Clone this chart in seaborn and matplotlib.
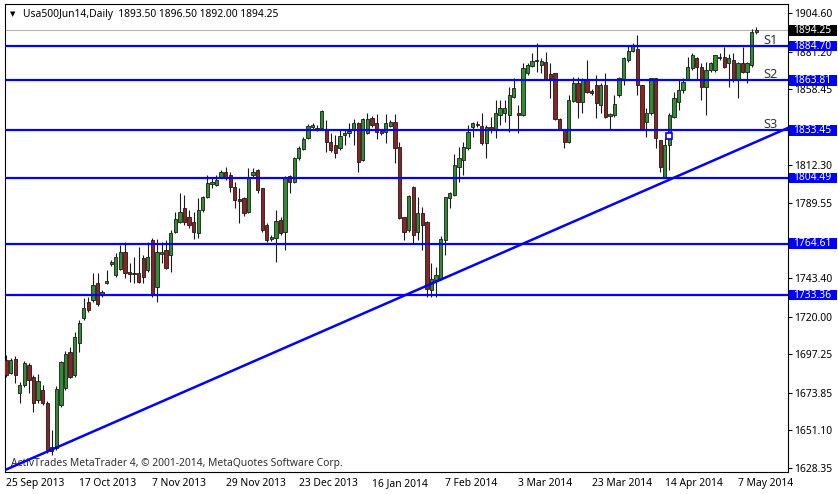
import numpy as np
import pandas as pd
import matplotlib
matplotlib.use("Agg")
import matplotlib.pyplot as plt
import seaborn as sns
from matplotlib.transforms import blended_transform_factory
from matplotlib.patches import Rectangle

# ---------------- data ----------------
opens = [1693.8, 1685.9, 1694.5, 1673.8, 1678.7, 1690.8, 1683.5, 1669.5, 1675.6, 1667.7,
         1640.9, 1640.4, 1666.5, 1676.8, 1698.7, 1684.7, 1704.2, 1719.4, 1729.1, 1730.3,
         1740.6, 1733.9, 1740.6, 1752.2, 1745.5, 1749.2, 1759.5, 1747.3, 1746.1, 1746.7,
         1755.8, 1748.6, 1766.8, 1738.2, 1758.3, 1760.7, 1757.7, 1771.6, 1777.7, 1786.2,
         1780.8, 1777.7, 1771.0, 1785.0, 1792.9, 1800.8, 1800.2, 1805.1, 1808.1, 1806.3,
         1799.0, 1791.7, 1792.3, 1783.8, 1806.3, 1809.3, 1798.4, 1775.9, 1767.4, 1768.0,
         1778.9, 1771.6, 1805.7, 1802.0, 1816.6, 1822.1, 1828.8, 1835.5, 1834.9, 1834.9,
         1834.3, 1826.3, 1824.5, 1822.7, 1830.6, 1831.8, 1833.6, 1837.9, 1815.4, 1831.8,
         1840.9, 1837.9, 1833.0, 1832.4, 1836.1, 1838.5, 1823.3, 1780.8, 1772.9, 1799.0,
         1771.6, 1783.2, 1777.7, 1736.4, 1742.5, 1743.1, 1766.8, 1792.3, 1794.1, 1811.2,
         1815.4, 1822.7, 1835.5, 1836.7, 1836.1, 1825.7, 1835.5, 1834.3, 1842.8, 1844.0,
         1842.8, 1853.7, 1844.0, 1842.8, 1868.3, 1872.5, 1875.6, 1873.2, 1875.0, 1867.6,
         1868.3, 1840.3, 1833.6, 1826.3, 1851.3, 1862.2, 1850.7, 1864.0, 1857.3, 1861.0,
         1848.8, 1861.0, 1842.2, 1842.8, 1854.9, 1864.0, 1876.2, 1881.7, 1882.9, 1861.0,
         1838.5, 1844.0, 1865.3, 1827.6, 1805.1, 1824.5, 1841.5, 1850.7, 1858.0, 1864.0,
         1871.3, 1877.4, 1871.9, 1859.8, 1870.1, 1870.1, 1877.4, 1878.0, 1874.4, 1876.2,
         1864.0, 1874.4, 1868.9, 1873.2, 1893.5]
highs = [1696.9, 1695.1, 1696.3, 1680.5, 1693.2, 1692.0, 1684.7, 1685.3, 1678.7, 1668.9,
         1651.3, 1678.0, 1693.2, 1699.3, 1701.8, 1710.9, 1718.2, 1731.5, 1732.1, 1746.7,
         1746.7, 1736.4, 1748.6, 1754.6, 1758.9, 1763.8, 1765.6, 1752.8, 1756.5, 1762.5,
         1757.7, 1765.6, 1768.0, 1767.4, 1765.6, 1766.8, 1772.9, 1783.8, 1795.4, 1794.1,
         1785.0, 1783.8, 1792.3, 1793.5, 1806.3, 1804.5, 1806.3, 1809.3, 1811.2, 1808.1,
         1802.0, 1798.4, 1792.9, 1810.5, 1810.5, 1809.9, 1798.4, 1777.1, 1769.8, 1785.0,
         1780.8, 1805.7, 1806.3, 1817.2, 1823.9, 1829.4, 1837.3, 1837.9, 1836.7, 1845.8,
         1839.7, 1831.8, 1830.6, 1833.6, 1834.3, 1837.9, 1840.3, 1838.5, 1840.9, 1844.0,
         1842.2, 1843.4, 1833.6, 1843.4, 1839.7, 1843.4, 1826.3, 1780.8, 1794.1, 1799.6,
         1792.9, 1786.9, 1778.3, 1752.8, 1750.4, 1769.2, 1792.9, 1796.0, 1819.1, 1823.3,
         1826.3, 1836.7, 1838.5, 1839.1, 1844.0, 1836.7, 1841.5, 1851.9, 1851.9, 1851.9,
         1859.8, 1865.3, 1848.8, 1874.4, 1874.4, 1880.4, 1886.5, 1877.4, 1881.0, 1874.4,
         1868.3, 1840.9, 1833.6, 1854.9, 1865.9, 1865.9, 1865.3, 1876.2, 1858.6, 1867.1,
         1862.2, 1868.3, 1844.0, 1854.9, 1865.9, 1878.0, 1885.3, 1886.5, 1891.4, 1861.0,
         1847.0, 1865.3, 1865.3, 1827.6, 1828.8, 1844.0, 1856.7, 1864.0, 1865.3, 1878.0,
         1880.4, 1878.0, 1874.4, 1875.0, 1875.0, 1879.2, 1880.4, 1884.1, 1879.8, 1880.4,
         1875.0, 1884.1, 1875.0, 1895.0, 1896.5]
lows = [1683.5, 1685.3, 1679.9, 1667.7, 1677.4, 1673.8, 1662.2, 1667.7, 1666.5, 1637.3,
        1636.1, 1639.1, 1665.3, 1675.6, 1682.9, 1683.5, 1698.7, 1718.2, 1723.0, 1729.1,
        1726.7, 1732.1, 1740.0, 1751.0, 1744.3, 1748.6, 1743.7, 1741.3, 1740.6, 1740.6,
        1740.6, 1747.3, 1732.1, 1729.1, 1752.8, 1749.2, 1747.3, 1771.0, 1777.1, 1775.9,
        1774.1, 1767.4, 1768.0, 1783.8, 1792.3, 1798.4, 1799.6, 1804.5, 1803.2, 1796.0,
        1786.2, 1777.1, 1781.4, 1783.2, 1805.1, 1795.4, 1771.6, 1765.6, 1766.2, 1753.4,
        1769.8, 1760.7, 1795.4, 1801.4, 1815.4, 1821.5, 1828.2, 1834.3, 1833.0, 1834.3,
        1820.3, 1820.3, 1816.6, 1821.5, 1824.5, 1829.4, 1824.5, 1808.1, 1814.8, 1831.2,
        1835.5, 1828.2, 1830.6, 1825.7, 1835.5, 1813.6, 1779.6, 1766.8, 1771.6, 1764.4,
        1766.8, 1760.7, 1732.1, 1732.1, 1732.1, 1742.5, 1757.7, 1786.2, 1793.5, 1802.0,
        1806.3, 1821.5, 1829.4, 1835.5, 1824.5, 1816.6, 1831.8, 1828.8, 1836.7, 1838.5,
        1832.4, 1853.1, 1831.8, 1842.2, 1867.1, 1871.9, 1868.9, 1868.3, 1864.0, 1853.1,
        1839.7, 1833.6, 1822.7, 1825.7, 1850.7, 1840.9, 1844.0, 1856.1, 1854.9, 1840.9,
        1844.0, 1840.9, 1833.6, 1841.5, 1853.7, 1861.0, 1875.0, 1881.0, 1854.9, 1833.6,
        1829.4, 1842.8, 1822.7, 1808.1, 1804.5, 1809.3, 1840.9, 1845.8, 1856.1, 1864.0,
        1870.1, 1864.0, 1851.9, 1842.8, 1868.9, 1868.9, 1876.2, 1871.3, 1859.8, 1862.8,
        1853.1, 1868.3, 1862.2, 1871.9, 1892.0]
closes = [1684.7, 1693.8, 1684.7, 1678.7, 1692.0, 1681.7, 1667.7, 1681.1, 1667.7, 1639.1,
          1638.5, 1676.2, 1692.6, 1697.5, 1683.5, 1707.8, 1716.3, 1725.5, 1724.2, 1739.4,
          1727.9, 1735.2, 1741.9, 1753.4, 1756.5, 1759.5, 1746.7, 1746.1, 1746.7, 1741.3,
          1744.3, 1756.5, 1733.9, 1759.5, 1759.5, 1749.8, 1771.0, 1779.6, 1783.8, 1777.7,
          1775.9, 1771.6, 1785.0, 1792.9, 1801.4, 1802.0, 1803.2, 1808.1, 1805.1, 1799.0,
          1791.1, 1790.5, 1783.2, 1805.1, 1808.1, 1797.2, 1772.9, 1766.8, 1768.6, 1778.3,
          1771.0, 1804.5, 1802.0, 1816.6, 1822.7, 1828.2, 1836.1, 1836.7, 1833.6, 1845.2,
          1826.3, 1821.5, 1819.7, 1830.0, 1831.8, 1833.0, 1837.9, 1814.2, 1840.3, 1840.3,
          1836.7, 1832.4, 1831.8, 1837.9, 1838.5, 1822.7, 1780.2, 1771.6, 1793.5, 1769.8,
          1783.2, 1775.9, 1737.0, 1743.1, 1745.5, 1767.4, 1792.9, 1795.4, 1812.4, 1816.6,
          1823.3, 1832.4, 1837.9, 1837.3, 1825.7, 1835.5, 1833.6, 1844.0, 1847.0, 1847.0,
          1854.9, 1859.2, 1842.8, 1871.3, 1873.2, 1875.6, 1876.2, 1875.6, 1864.6, 1865.3,
          1840.3, 1833.6, 1826.3, 1851.9, 1862.2, 1850.7, 1864.0, 1856.7, 1856.1, 1850.1,
          1861.0, 1841.5, 1843.4, 1849.4, 1865.3, 1877.4, 1881.7, 1884.7, 1861.0, 1833.6,
          1844.0, 1865.3, 1828.8, 1811.2, 1824.5, 1842.8, 1853.1, 1858.0, 1862.8, 1871.9,
          1879.2, 1871.9, 1859.8, 1870.1, 1874.4, 1879.2, 1878.0, 1871.9, 1877.4, 1864.0,
          1874.4, 1868.9, 1874.4, 1893.5, 1894.25]

date_labels = ["25 Sep 2013", "17 Oct 2013", "7 Nov 2013", "29 Nov 2013", "23 Dec 2013",
               "16 Jan 2014", "7 Feb 2014", "3 Mar 2014", "23 Mar 2014", "14 Apr 2014",
               "7 May 2014"]
bars_per_label = 16

price_ticks = [1904.60, 1881.20, 1858.45, 1812.30, 1789.55, 1743.40, 1720.00,
               1697.25, 1673.85, 1651.10, 1628.35]

levels = [1884.70, 1863.81, 1833.45, 1804.49, 1764.61, 1733.36]
level_names = {1884.70: "S1", 1863.81: "S2", 1833.45: "S3"}
last_price = 1894.25
trend_bars = [-0.2, 170.9]
trend_prices = [1627.0, 1834.9]
s3_anchor = (145, 1830.0)

header = "Usa500Jun14,Daily  1893.50 1896.50 1892.00 1894.25"
watermark = "ActivTrades MetaTrader 4, \u00a9 2001-2014, MetaQuotes Software Corp."

# ---------------- style ----------------
sns.set_style("white")
plt.rcParams['font.family'] = ['Noto Sans', 'DejaVu Sans']
FS = 7.4

df = pd.DataFrame({"open": opens, "high": highs, "low": lows, "close": closes})
df["bar"] = np.arange(len(df))
df["up"] = df["close"] >= df["open"]

fig = plt.figure(figsize=(8.38, 4.94), dpi=100)
fig.patch.set_facecolor("white")
ax = fig.add_axes([5/838, 1 - 472/494, 783/838, 468/494])
ax.set_facecolor("white")

# wicks
ax.vlines(df["bar"], df["low"], df["high"], color="#1a1a1a", lw=0.8, zorder=2)
# bodies
body_bottom = np.minimum(df["open"], df["close"])
body_h = np.maximum(np.abs(df["close"] - df["open"]), 0.35)
colors = np.where(df["up"], "#2d8f2d", "#8f2323")
ax.bar(df["bar"], body_h, bottom=body_bottom, width=0.72, color=colors,
       edgecolor="#1a1a1a", linewidth=0.6, zorder=3)

# support lines
for lv in levels:
    ax.axhline(lv, color="#0000ff", lw=1.6, zorder=4)
ax.axhline(last_price, color="#b4b4b4", lw=0.8, zorder=1)

# trend line
tdf = pd.DataFrame({"bar": trend_bars, "price": trend_prices})
sns.lineplot(data=tdf, x="bar", y="price", color="#0000ff", lw=1.8, ax=ax, zorder=5)
ax.plot([s3_anchor[0]], [s3_anchor[1]], marker="s", ms=4.2, mfc="white", mec="#0000ff",
        mew=1.2, zorder=6, clip_on=False)

for lv, name in level_names.items():
    ax.annotate(name, xy=(167.2, lv), xytext=(0, 1.6), textcoords="offset points",
                ha="center", va="baseline", fontsize=9.2, color="#333333", zorder=6)

ax.set_xlim(-0.22, 170.93)
ax.set_ylim(1625.78, 1910.23)

# x axis
xt = [i * bars_per_label for i in range(len(date_labels))]
ax.set_xticks(xt)
ax.set_xticklabels(date_labels, ha="left", fontsize=FS, color="black")
ax.tick_params(axis="x", direction="out", length=3, width=0.8, pad=1.5, color="black")

# y axis on the right
ax.yaxis.tick_right()
ax.set_yticks(price_ticks)
ax.set_yticklabels([f"{v:.2f}" for v in price_ticks], fontsize=FS, color="black")
ax.tick_params(axis="y", direction="out", length=3, width=0.8, pad=1.5, color="black")
ax.set_xlabel("")
ax.set_ylabel("")

for s in ax.spines.values():
    s.set_color("black")
    s.set_linewidth(0.8)

# price boxes on the right axis
bt = blended_transform_factory(ax.transAxes, ax.transData)
px_per_price = 468 / (1910.23 - 1625.78)
box_h = 10.5 / px_per_price
box_x = 1 + 1.3 / 783
box_w = 48 / 783
for lv, fc in [(lv, "#0000ff") for lv in levels] + [(last_price, "black")]:
    ax.add_patch(Rectangle((box_x, lv - box_h / 2), box_w, box_h, transform=bt,
                           facecolor=fc, edgecolor="none", clip_on=False, zorder=10))
    ax.text(1 + 5.5 / 783, lv, f"{lv:.2f}", transform=bt, ha="left", va="center",
            fontsize=FS, color="white", zorder=11, clip_on=False)

# header and watermark
ax.text((12.5 - 5) / 783, (472 - 14.5) / 468, "\u25bc", transform=ax.transAxes,
        ha="center", va="center", fontsize=5, color="black", family="DejaVu Sans")
ax.text((23 - 5) / 783, (472 - 14.5) / 468, header, transform=ax.transAxes,
        ha="left", va="center", fontsize=FS, color="black")
ax.text((11 - 5) / 783, (472 - 463) / 468, watermark, transform=ax.transAxes,
        ha="left", va="center", fontsize=FS, color="#303030", zorder=1)

fig.savefig("out.png", dpi=100, facecolor="white")
